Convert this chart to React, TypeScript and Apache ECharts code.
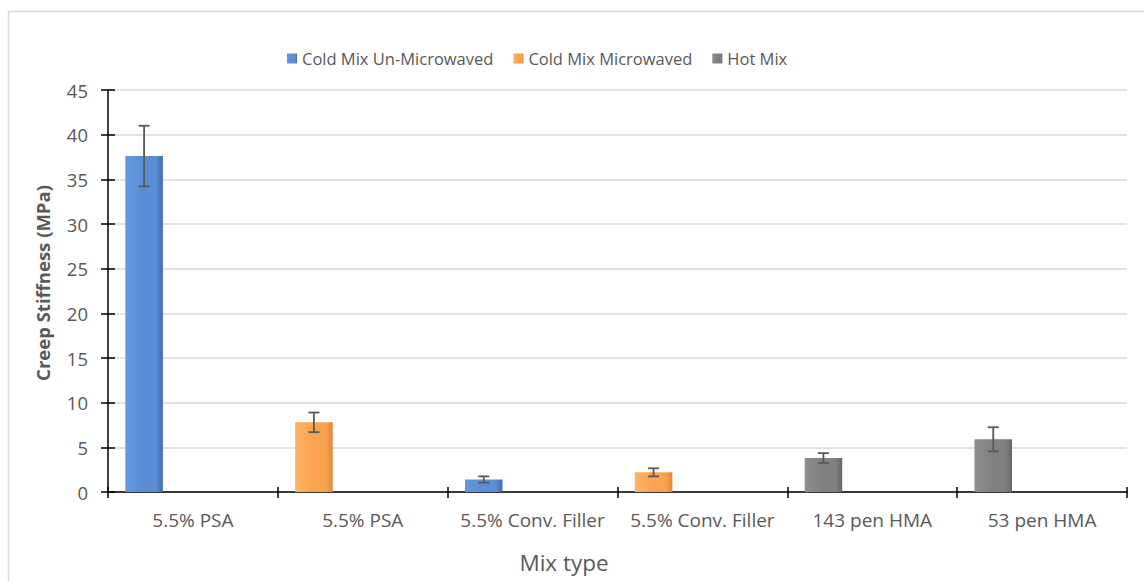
import React, { useEffect, useRef } from "react";
import * as echarts from "echarts";

const categories = [
  "5.5% PSA",
  "5.5% PSA",
  "5.5% Conv. Filler",
  "5.5% Conv. Filler",
  "143 pen HMA",
  "53 pen HMA",
];
const seriesNames = ["Cold Mix Un-Microwaved", "Cold Mix Microwaved", "Hot Mix"];
const coldUnMicrowaved = [37.6, null, 1.4, null, null, null];
const coldMicrowaved = [null, 7.8, null, 2.2, null, null];
const hotMix = [null, null, null, null, 3.8, 5.9];
const errors = [3.4, 1.1, 0.35, 0.45, 0.55, 1.35];
const yTicks = { min: 0, max: 45, interval: 5 };

const CAT_GAP = 0.204;
const BAR_GAP = 0.3;
const SLOTS = 3;

function grad(light: string, mid: string, dark: string) {
  return new echarts.graphic.LinearGradient(0, 0, 1, 0, [
    { offset: 0, color: light },
    { offset: 0.5, color: mid },
    { offset: 0.82, color: mid },
    { offset: 1, color: dark },
  ]);
}

export default function App() {
  const ref = useRef<HTMLDivElement>(null);
  useEffect(() => {
    if (!ref.current) return;
    const chart = echarts.init(ref.current, null, { renderer: "svg" });
    const values = categories.map(
      (_, i) => (coldUnMicrowaved[i] ?? coldMicrowaved[i] ?? hotMix[i]) as number
    );
    const errData = values.map((v, i) => [i, v - errors[i], v + errors[i]]);
    const textColor = "#595959";
    const font = "Open Sans";
    const option: any = {
      animation: false,
      backgroundColor: "#fff",
      textStyle: { fontFamily: font },
      graphic: [
        {
          type: "rect",
          shape: { x: 8.5, y: 11.5, width: 1200, height: 600 },
          style: { fill: "none", stroke: "#d9d9d9", lineWidth: 1.5 },
          silent: true,
        },
        {
          type: "text",
          x: 564,
          y: 562,
          style: {
            text: "Mix type",
            fill: textColor,
            font: `22.5px "${font}"`,
            textAlign: "center",
            textVerticalAlign: "middle",
          },
        },
        {
          type: "text",
          x: 42,
          y: 283,
          rotation: Math.PI / 2,
          style: {
            text: "Creep Stiffness (MPa)",
            fill: textColor,
            font: `bold 18.5px "${font}"`,
            textAlign: "center",
            textVerticalAlign: "middle",
          },
        },
      ],
      legend: {
        data: seriesNames,
        top: 45,
        left: 282,
        itemWidth: 10,
        itemHeight: 10,
        itemGap: 20,
        icon: "rect",
        textStyle: { color: textColor, fontSize: 16.5, fontFamily: font },
      },
      grid: { left: 108, right: 17, top: 90, bottom: 89 },
      xAxis: [
        {
          type: "category",
          data: categories,
          axisLine: { lineStyle: { color: "#000", width: 1.5 } },
          axisTick: { show: true, length: 6, lineStyle: { color: "#000", width: 1.5 } },
          axisLabel: { color: textColor, fontSize: 19, margin: 18, fontFamily: font, interval: 0 },
        },
        {
          type: "category",
          data: categories,
          position: "bottom",
          offset: 0,
          axisLine: { show: false },
          axisTick: { show: true, inside: true, length: 5, lineStyle: { color: "#000", width: 1.5 } },
          axisLabel: { show: false },
          splitLine: { show: false },
        },
      ],
      yAxis: [
        {
          type: "value",
          ...yTicks,
          axisLine: { show: true, lineStyle: { color: "#000", width: 1.5 } },
          axisTick: { show: true, length: 7, lineStyle: { color: "#000", width: 1.5 } },
          axisLabel: { color: textColor, fontSize: 18.5, margin: 20, fontFamily: font },
          splitLine: { lineStyle: { color: "#d9d9d9", width: 1.5 } },
        },
        {
          type: "value",
          ...yTicks,
          position: "left",
          offset: 0,
          axisLine: { show: false },
          axisTick: { show: true, inside: true, length: 7, lineStyle: { color: "#000", width: 1.5 } },
          axisLabel: { show: false },
          splitLine: { show: false },
        },
      ],
      series: [
        {
          name: seriesNames[0],
          type: "bar",
          stack: "a",
          data: coldUnMicrowaved,
          barCategoryGap: `${CAT_GAP * 100}%`,
          barGap: `${BAR_GAP * 100}%`,
          itemStyle: { color: grad("#6499e0", "#5a8dd3", "#3f6cab") },
        },
        {
          name: seriesNames[1],
          type: "bar",
          stack: "a",
          data: coldMicrowaved,
          itemStyle: { color: grad("#fdb466", "#f9a24f", "#e0863a") },
        },
        {
          name: seriesNames[2],
          type: "bar",
          stack: "a",
          data: hotMix,
          itemStyle: { color: grad("#8e8e8e", "#808080", "#666666") },
        },
        { name: "_d1", type: "bar", stack: "b", data: categories.map(() => null) },
        { name: "_d2", type: "bar", stack: "c", data: categories.map(() => null) },
        {
          name: "err",
          type: "custom",
          data: errData,
          encode: { x: 0, y: [1, 2] },
          z: 10,
          renderItem: (params: any, api: any) => {
            const idx = api.value(0);
            const lo = api.coord([idx, api.value(1)]);
            const hi = api.coord([idx, api.value(2)]);
            const band = api.size([1, 0])[0];
            const w = (band * (1 - CAT_GAP)) / (SLOTS + (SLOTS - 1) * BAR_GAP);
            const total = SLOTS * w + (SLOTS - 1) * BAR_GAP * w;
            const x = lo[0] - total / 2 + w / 2;
            const cap = 5.5;
            const style = { stroke: "#595959", lineWidth: 1.8 };
            return {
              type: "group",
              children: [
                { type: "line", shape: { x1: x, y1: hi[1], x2: x, y2: lo[1] }, style },
                { type: "line", shape: { x1: x - cap, y1: hi[1], x2: x + cap, y2: hi[1] }, style },
                { type: "line", shape: { x1: x - cap, y1: lo[1], x2: x + cap, y2: lo[1] }, style },
              ],
            };
          },
        },
      ],
    };
    chart.setOption(option);
    return () => chart.dispose();
  }, []);
  return (
    <div
      ref={ref}
      style={{ position: "absolute", left: 0, top: 0, width: 1144, height: 581 }}
    />
  );
}
